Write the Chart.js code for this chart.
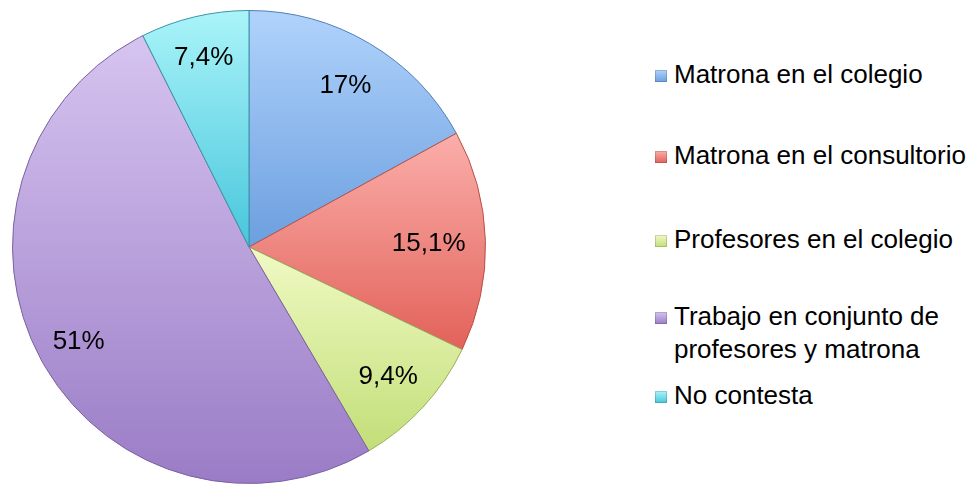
<!DOCTYPE html>
<html>
<head>
<meta charset="utf-8">
<script src="https://cdn.jsdelivr.net/npm/chart.js@4/dist/chart.umd.min.js"></script>
<style>
  html, body { margin: 0; padding: 0; background: #fff; }
  body { width: 979px; height: 485px; position: relative; overflow: hidden; font-family: "Liberation Sans", Arial, sans-serif; }
  #pie-wrap { position: absolute; left: 12px; top: 10px; width: 474px; height: 474px; }
  #legend { position: absolute; left: 655px; top: 0; }
  .legend-item { position: absolute; left: 0; width: 330px; font-size: 26px; line-height: 33px; color: #000; white-space: nowrap; }
  .legend-item .box { position: absolute; left: 0; top: 12px; width: 12px; height: 12px; box-shadow: inset 0 0 0 1px rgba(0,0,0,0.15); }
  .legend-item .txt { margin-left: 19px; display: block; }
</style>
</head>
<body>
<div id="pie-wrap"><canvas id="pie"></canvas></div>
<div id="legend"></div>
<script>
const labels = [
  'Matrona en el colegio',
  'Matrona en el consultorio',
  'Profesores en el colegio',
  'Trabajo en conjunto de profesores y matrona',
  'No contesta'
];
const legendLines = [
  ['Matrona en el colegio'],
  ['Matrona en el consultorio'],
  ['Profesores en el colegio'],
  ['Trabajo en conjunto de', 'profesores y matrona'],
  ['No contesta']
];
const values = [17, 15.1, 9.4, 51, 7.4];
const valueLabels = ['17%', '15,1%', '9,4%', '51%', '7,4%'];

// light (top) and dark (bottom) shade of each slice
const topColors = ['#b0d3fb', '#fbaeaa', '#f0fac4', '#d6c4f0', '#aaf4f9'];
const bottomColors = ['#6c9fdf', '#e2625a', '#c2de78', '#9a7cc6', '#48c6dc'];
const edgeColors = ['#4f7fb8', '#b9514a', '#98ae5c', '#7a62a0', '#3a95a6'];

const legendTops = [58, 139, 223, 300, 379];
// how far out along the radius each value label sits
const labelRadius = [0.8, 0.76, 0.8, 0.82, 0.83];

function buildLegend() {
  const legend = document.getElementById('legend');
  legendLines.forEach((lines, i) => {
    const item = document.createElement('div');
    item.className = 'legend-item';
    item.style.top = legendTops[i] + 'px';
    const box = document.createElement('span');
    box.className = 'box';
    box.style.background = `linear-gradient(${topColors[i]}, ${bottomColors[i]})`;
    const txt = document.createElement('span');
    txt.className = 'txt';
    txt.innerHTML = lines.join('<br>');
    item.append(box, txt);
    legend.append(item);
  });
}

// vertical gradient fitted to each slice's own bounding box
function sliceGradient(ctx, arc, i) {
  const { x, y, startAngle, endAngle, outerRadius } = arc;
  let minY = y, maxY = y;
  const steps = 24;
  for (let s = 0; s <= steps; s++) {
    const a = startAngle + (endAngle - startAngle) * s / steps;
    const py = y + Math.sin(a) * outerRadius;
    minY = Math.min(minY, py);
    maxY = Math.max(maxY, py);
  }
  const g = ctx.createLinearGradient(0, minY, 0, maxY);
  g.addColorStop(0, topColors[i]);
  g.addColorStop(1, bottomColors[i]);
  return g;
}

const gradientPlugin = {
  id: 'sliceGradients',
  beforeDatasetsDraw(chart) {
    const meta = chart.getDatasetMeta(0);
    meta.data.forEach((arc, i) => {
      arc.options.backgroundColor = sliceGradient(chart.ctx, arc, i);
    });
  }
};

const labelPlugin = {
  id: 'valueLabels',
  afterDatasetsDraw(chart) {
    const ctx = chart.ctx;
    const meta = chart.getDatasetMeta(0);
    ctx.save();
    ctx.font = '26px "Liberation Sans", Arial, sans-serif';
    ctx.fillStyle = '#000';
    ctx.textAlign = 'center';
    ctx.textBaseline = 'middle';
    meta.data.forEach((arc, i) => {
      const mid = (arc.startAngle + arc.endAngle) / 2;
      const r = arc.outerRadius * labelRadius[i];
      ctx.fillText(valueLabels[i], arc.x + Math.cos(mid) * r, arc.y + Math.sin(mid) * r + 2);
    });
    ctx.restore();
  }
};

buildLegend();

new Chart(document.getElementById('pie'), {
  type: 'pie',
  data: {
    labels,
    datasets: [{
      data: values,
      backgroundColor: topColors,
      borderColor: edgeColors,
      borderWidth: 1
    }]
  },
  options: {
    responsive: true,
    maintainAspectRatio: false,
    animation: false,
    layout: { padding: 0 },
    plugins: {
      legend: { display: false },
      tooltip: { enabled: false }
    }
  },
  plugins: [gradientPlugin, labelPlugin]
});
</script>
</body>
</html>
